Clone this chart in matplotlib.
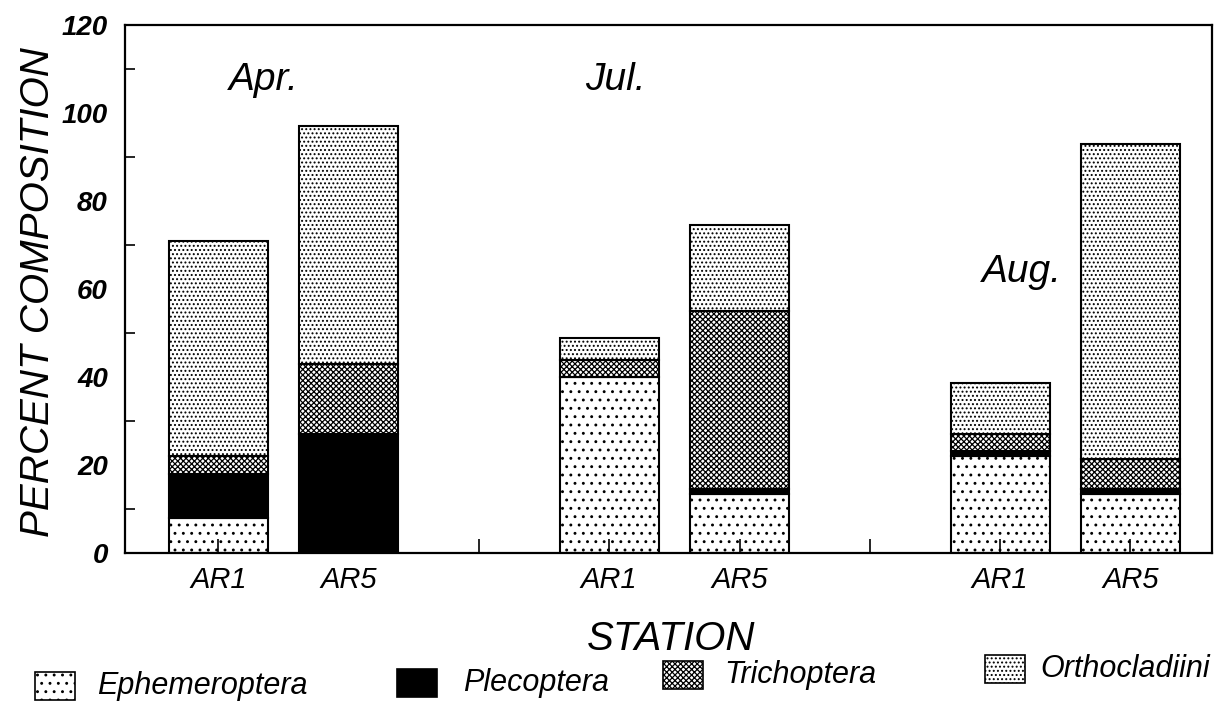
import matplotlib
matplotlib.use("Agg")
import matplotlib.pyplot as plt
from matplotlib.patches import Rectangle

plt.rcParams["font.family"] = ["Liberation Sans", "DejaVu Sans"]
plt.rcParams["hatch.linewidth"] = 0.9

# stacked percent composition per station
months = ["Apr.", "Jul.", "Aug."]
month_x = [0.35, 3.05, 6.17]
month_y = [107.5, 107.5, 64]
stations = ["AR1", "AR5", "AR1", "AR5", "AR1", "AR5"]
bar_pos = [0, 1, 3, 4, 6, 7]
gap_ticks = [2, 5]

ephemeroptera = [8, 0, 40, 13.5, 22, 13.5]
plecoptera = [10, 27, 0, 1, 1.2, 1]
trichoptera = [4, 16, 4, 40.5, 3.8, 7]
orthocladiini = [49, 54, 5, 19.5, 11.7, 71.5]

taxa = ["Ephemeroptera", "Plecoptera", "Trichoptera", "Orthocladiini"]
series = [ephemeroptera, plecoptera, trichoptera, orthocladiini]
faces = ["white", "black", "white", "white"]
hatches = ["..", None, "xxxxxx", "...."]

fig = plt.figure(figsize=(12.21, 7.03), dpi=100)
ax = fig.add_axes([0.102, 0.213, 0.891, 0.751])

bottom = [0.0] * len(bar_pos)
for vals, fc, h in zip(series, faces, hatches):
    ax.bar(bar_pos, vals, width=0.76, bottom=bottom, color=fc,
           edgecolor="black", linewidth=1.5, hatch=h, zorder=1)
    bottom = [b + v for b, v in zip(bottom, vals)]

ax.set_xlim(-0.72, 7.63)
ax.set_ylim(0, 120)

ax.set_xticks(bar_pos)
ax.set_xticklabels(stations, fontsize=21, style="italic")
ax.set_xticks(gap_ticks, minor=True)
ax.tick_params(axis="x", which="both", direction="in", length=10,
               width=1.2, pad=9, top=False)

ax.set_yticks(range(0, 121, 20))
ax.set_yticklabels([str(v) for v in range(0, 121, 20)], fontsize=20,
                   style="italic", fontweight="bold")
ax.set_yticks(range(10, 120, 20), minor=True)
ax.tick_params(axis="y", which="major", length=0, pad=12)
ax.tick_params(axis="y", which="minor", direction="in", length=7, width=1.2)

for sp in ax.spines.values():
    sp.set_linewidth(1.6)

for m, mx, my in zip(months, month_x, month_y):
    ax.text(mx, my, m, fontsize=28, style="italic", ha="center", va="center")

fig.text(38 / 1221, 1 - 292 / 703, "PERCENT COMPOSITION", rotation=90,
         fontsize=29, style="italic", ha="center", va="center")
fig.text(671 / 1221, 1 - 639 / 703, "STATION", fontsize=29,
         style="italic", ha="center", va="center")

# legend boxes laid out along the bottom
leg_box_x = [35, 397, 663, 985]
leg_text_x = [97, 463, 724, 1040]
leg_y = [686, 683, 675, 669]
for name, fc, h, bx, tx, ly in zip(taxa, faces, hatches, leg_box_x,
                                   leg_text_x, leg_y):
    fig.patches.append(Rectangle((bx / 1221, 1 - (ly + 14) / 703),
                                 40 / 1221, 28 / 703, facecolor=fc,
                                 edgecolor="black", linewidth=1.2, hatch=h,
                                 transform=fig.transFigure, figure=fig))
    fig.text(tx / 1221, 1 - ly / 703, name, fontsize=22, style="italic",
             ha="left", va="center")

fig.savefig("out.png", dpi=100)
